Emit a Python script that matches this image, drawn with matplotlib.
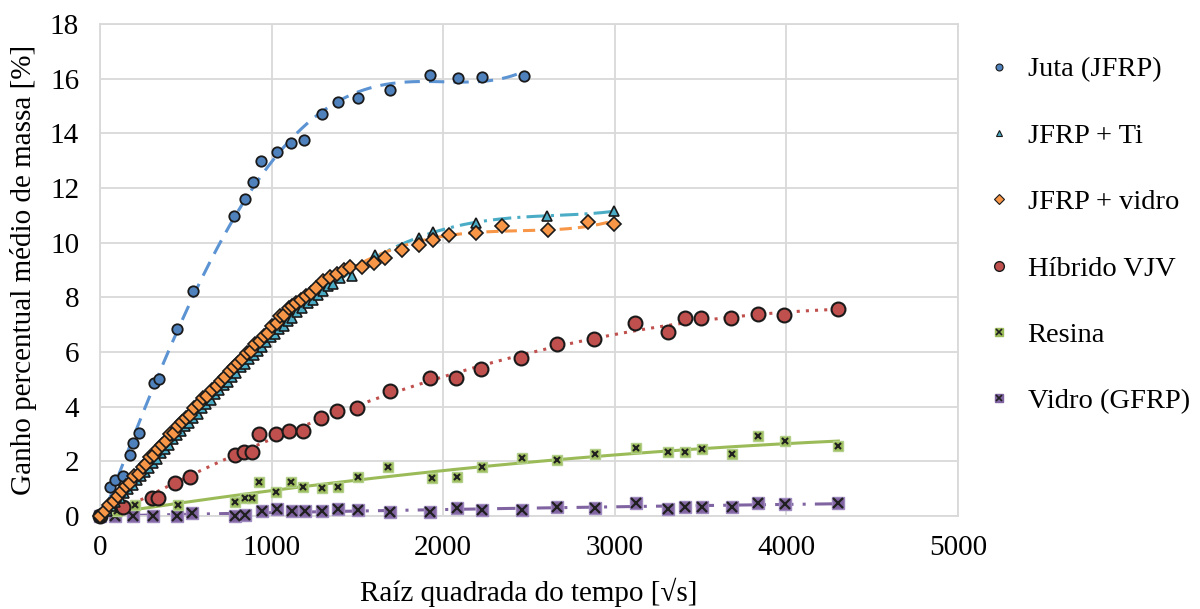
import numpy as np
import matplotlib.pyplot as plt
from matplotlib.lines import Line2D

plt.rcParams['font.family'] = ['Liberation Serif', 'DejaVu Serif']

# Juta (JFRP)
juta_x = [0, 58, 87, 132, 175, 194, 227, 315, 344, 449, 540, 781, 845, 890, 936,
          1030, 1111, 1189, 1296, 1389, 1505, 1690, 1923, 2086, 2226, 2471]
juta_y = [0, 1.07, 1.32, 1.46, 2.23, 2.67, 3.04, 4.87, 5.01, 6.85, 8.23, 10.99, 11.59,
          12.23, 12.99, 13.33, 13.64, 13.76, 14.71, 15.14, 15.28, 15.59, 16.14, 16.03,
          16.06, 16.10]

# JFRP + Ti
ti_x = [0, 40, 65, 90, 115, 140, 165, 190, 215, 240, 262, 285, 310, 335, 355, 380,
        405, 425, 450, 475, 495, 520, 545, 570, 595, 620, 645, 670, 695, 720, 745,
        770, 795, 820, 845, 870, 895, 920, 945, 970, 995, 1020, 1045, 1070, 1095,
        1120, 1150, 1180, 1210, 1240, 1270, 1300, 1330, 1360, 1400, 1467, 1603,
        1859, 1942, 2191, 2603, 2995]
ti_y = [0, 0.2, 0.35, 0.5, 0.65, 0.85, 1.0, 1.15, 1.3, 1.45, 1.6, 1.75, 1.95, 2.1,
        2.3, 2.45, 2.6, 2.8, 2.95, 3.1, 3.3, 3.4, 3.6, 3.75, 3.95, 4.1, 4.25, 4.45,
        4.6, 4.8, 4.9, 5.1, 5.25, 5.45, 5.55, 5.75, 5.9, 6.05, 6.2, 6.35, 6.55, 6.65,
        6.85, 6.95, 7.15, 7.25, 7.45, 7.6, 7.8, 7.9, 8.1, 8.25, 8.4, 8.5, 8.7, 8.78,
        9.55, 10.16, 10.40, 10.72, 10.99, 11.15]

# JFRP + vidro
jv_x = [0, 30, 55, 80, 105, 130, 150, 175, 200, 225, 250, 270, 290, 315, 340, 360,
        385, 410, 430, 455, 480, 500, 525, 550, 575, 600, 625, 650, 680, 705, 730,
        755, 780, 805, 830, 855, 880, 905, 930, 955, 980, 1005, 1030, 1050, 1075,
        1100, 1120, 1145, 1170, 1200, 1230, 1260, 1300, 1340, 1380, 1420, 1457,
        1525, 1597, 1661, 1762, 1859, 1942, 2034, 2191, 2345, 2609, 2842, 2995]
jv_y = [0, 0.2, 0.4, 0.55, 0.75, 0.9, 1.1, 1.2, 1.45, 1.55, 1.8, 1.9, 2.15, 2.25,
        2.45, 2.6, 2.75, 3.0, 3.05, 3.3, 3.45, 3.6, 3.7, 3.95, 4.1, 4.3, 4.4, 4.6,
        4.75, 4.95, 5.1, 5.3, 5.45, 5.6, 5.75, 5.95, 6.05, 6.3, 6.4, 6.6, 6.7, 6.95,
        7.05, 7.3, 7.35, 7.6, 7.7, 7.8, 7.9, 8.05, 8.15, 8.35, 8.6, 8.75, 8.85, 9.0,
        9.1, 9.12, 9.25, 9.43, 9.73, 9.90, 10.10, 10.27, 10.37, 10.60, 10.47, 10.75,
        10.67]

# Híbrido VJV
hib_x = [0, 134, 301, 340, 437, 524, 787, 841, 888, 928, 1026, 1103, 1181, 1286,
         1383, 1496, 1690, 1923, 2075, 2218, 2453, 2661, 2879, 3118, 3312, 3409,
         3502, 3680, 3836, 3988, 4299]
hib_y = [0, 0.34, 0.65, 0.65, 1.2, 1.44, 2.23, 2.35, 2.35, 3.0, 3.0, 3.12, 3.12, 3.6,
         3.84, 3.94, 4.57, 5.04, 5.04, 5.37, 5.79, 6.28, 6.46, 7.07, 6.74, 7.23, 7.23,
         7.23, 7.38, 7.35, 7.56]

# Resina
res_x = [0, 100, 204, 453, 787, 845, 888, 928, 1026, 1113, 1185, 1292, 1389, 1505,
         1680, 1933, 2079, 2224, 2457, 2661, 2885, 3124, 3312, 3409, 3506, 3681,
         3836, 3992, 4303]
res_y = [0, 0.2, 0.4, 0.4, 0.52, 0.65, 0.65, 1.26, 0.89, 1.26, 1.07, 1.01, 1.05,
         1.42, 1.78, 1.38, 1.44, 1.80, 2.11, 2.05, 2.27, 2.48, 2.35, 2.35, 2.44, 2.27,
         2.91, 2.75, 2.55]

# Vidro (GFRP)
gf_x = [0, 87, 194, 311, 447, 534, 787, 845, 942, 1030, 1117, 1195, 1292, 1389, 1505,
        1690, 1923, 2079, 2224, 2457, 2661, 2885, 3124, 3312, 3409, 3506, 3681, 3836,
        3992, 4303]
gf_y = [0, 0, 0, 0, 0, 0.12, 0, 0.04, 0.2, 0.24, 0.18, 0.18, 0.18, 0.24, 0.22, 0.16,
        0.16, 0.28, 0.22, 0.22, 0.34, 0.28, 0.49, 0.24, 0.34, 0.34, 0.34, 0.49, 0.44,
        0.49]

blue = '#4F81BD'
cyan = '#4BACC6'
orange = '#F79646'
red = '#C0504D'
green = '#9BBB59'
purple = '#8064A2'


def trend(ax, x, y, deg, color, ls, lw=2.2):
    # polynomial trendline over the range of the data
    c = np.polyfit(x, y, deg)
    xs = np.linspace(0, max(x), 300)
    ax.plot(xs, np.polyval(c, xs), color=color, ls=ls, lw=lw, zorder=2)


fig = plt.figure(figsize=(12, 6.09), dpi=100)
ax = fig.add_axes([0.0833, 0.1527, 0.7150, 0.8079])

trend(ax, juta_x, juta_y, 4, '#5B93D3', (0, (5, 3)))
trend(ax, ti_x, ti_y, 4, cyan, (0, (6, 2, 1, 2)))
trend(ax, jv_x, jv_y, 4, orange, (0, (4, 2)))
trend(ax, hib_x, hib_y, 2, red, (0, (1, 2)))
trend(ax, res_x, res_y, 2, green, '-')
trend(ax, gf_x, gf_y, 2, purple, (0, (6, 3, 1, 3)))

mk = dict(ls='none', clip_on=False, zorder=3)
ax.plot(gf_x, gf_y, marker='s', ms=9, mfc=purple, mec='#9F8AC0', mew=1, **mk)
ax.plot(gf_x, gf_y, marker='x', ms=7, mec='#202020', mew=1.6, **mk)
ax.plot(res_x, res_y, marker='s', ms=7, mfc=green, mec='#B3D08A', mew=1, **mk)
ax.plot(res_x, res_y, marker='x', ms=4.5, mec='#202020', mew=1.5, **mk)
ax.plot(hib_x, hib_y, marker='o', ms=10, mfc=red, mec='#1A1A1A', mew=1.5, **mk)
ax.plot(juta_x, juta_y, marker='o', ms=7.5, mfc=blue, mec='#1A1A1A', mew=1.3, **mk)
ax.plot(ti_x, ti_y, marker='^', ms=7.5, mfc=cyan, mec='#1A1A1A', mew=1.2, **mk)
ax.plot(jv_x, jv_y, marker='D', ms=7, mfc=orange, mec='#1A1A1A', mew=1.2, **mk)

ax.set_xlim(0, 5000)
ax.set_ylim(0, 18)
ax.set_xticks(np.arange(0, 5001, 1000))
ax.set_yticks(np.arange(0, 19, 2))
ax.grid(True, color='#D9D9D9', lw=1.3)
ax.set_axisbelow(True)
for s in ax.spines.values():
    s.set_color('#D9D9D9')
    s.set_linewidth(1.3)
ax.tick_params(axis='x', length=0, labelsize=21, pad=14)
ax.tick_params(axis='y', length=0, labelsize=21, pad=15)
ax.set_xlabel('Raíz quadrada do tempo [√s]', fontsize=21, labelpad=12)
ax.set_ylabel('Ganho percentual médio de massa [%]', fontsize=21, labelpad=9)

legend_handles = [
    Line2D([], [], ls='none', marker='o', ms=5, mfc=blue, mec='#1A1A1A', mew=0.8),
    Line2D([], [], ls='none', marker='^', ms=5, mfc=cyan, mec='#1A1A1A', mew=0.8),
    Line2D([], [], ls='none', marker='D', ms=5, mfc=orange, mec='#1A1A1A', mew=0.8),
    Line2D([], [], ls='none', marker='o', ms=7, mfc=red, mec='#1A1A1A', mew=1),
    (Line2D([], [], ls='none', marker='s', ms=6, mfc=green, mec=green),
     Line2D([], [], ls='none', marker='x', ms=4, mec='#202020', mew=1.2)),
    (Line2D([], [], ls='none', marker='s', ms=6, mfc=purple, mec=purple),
     Line2D([], [], ls='none', marker='x', ms=5, mec='#202020', mew=1.2)),
]
legend_labels = ['Juta (JFRP)', 'JFRP + Ti', 'JFRP + vidro', 'Híbrido VJV',
                 'Resina', 'Vidro (GFRP)']
fig.legend(legend_handles, legend_labels, loc='upper left',
           bbox_to_anchor=(0.816, 0.921), frameon=False, fontsize=20.5,
           labelspacing=1.42, handlelength=0.8, handletextpad=0.6,
           borderaxespad=0, borderpad=0.3)

fig.savefig('out.png', dpi=100)
